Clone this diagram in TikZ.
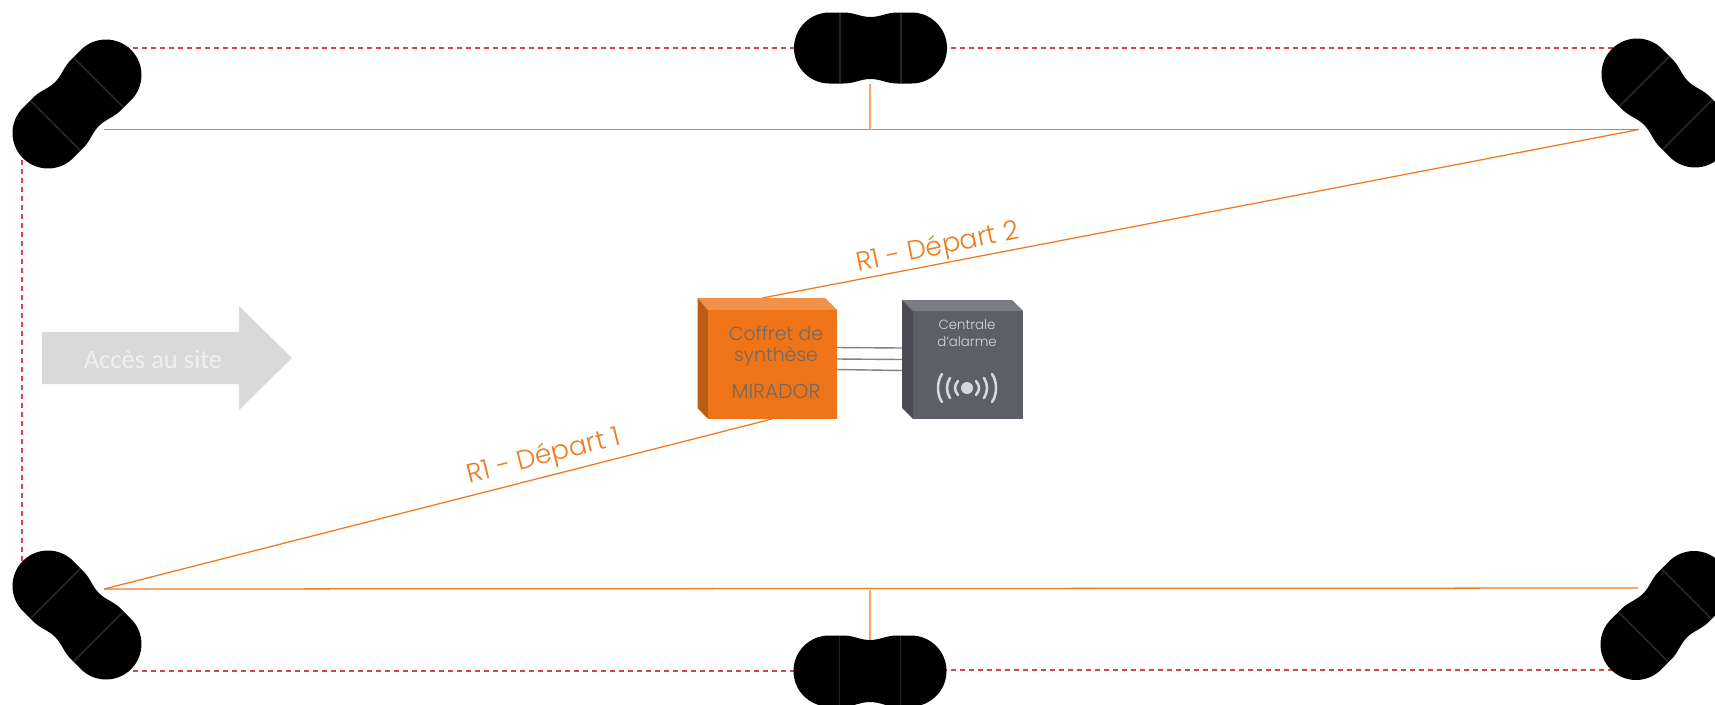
\documentclass[tikz,border=0pt]{standalone}
\usepackage{fontspec}
\setmainfont{Poppins Light}
\newfontfamily\calib{Carlito}
\definecolor{orgline}{HTML}{F07A1E}
\definecolor{orgpale}{HTML}{F5A466}
\definecolor{redline}{HTML}{D9434E}
\definecolor{orgfront}{HTML}{EF7317}
\definecolor{orgtop}{HTML}{F39149}
\definecolor{orgleft}{HTML}{BD5D12}
\definecolor{grayfront}{HTML}{5D5F67}
\definecolor{graytop}{HTML}{7B7C84}
\definecolor{grayleft}{HTML}{4A4B53}
\definecolor{wiregray}{HTML}{80808A}
\definecolor{seam}{HTML}{262626}
\definecolor{txtgray}{HTML}{6F6A68}
\definecolor{txtlight}{HTML}{D8D8DC}
\tikzset{
  orgwire/.style={draw=orgline,line width=0.95pt},
  palewire/.style={draw=orgpale,line width=1.05pt},
  redwire/.style={draw=redline,line width=0.95pt,dash pattern=on 3.9pt off 2.85pt},
  graywire/.style={draw=wiregray,line width=1.05pt},
  wave/.style={draw=txtlight,line width=1.9pt,line cap=round},
  pics/camera/.style={code={
    \fill[black] (-41,35.5) arc[start angle=90,end angle=270,radius=35.5]
      -- (-27,-35.5) .. controls (-16,-35.5) and (-10,-31) .. (0,-31)
      .. controls (10,-31) and (16,-35.5) .. (27,-35.5) -- (41,-35.5)
      arc[start angle=270,end angle=450,radius=35.5]
      -- (27,35.5) .. controls (16,35.5) and (10,31) .. (0,31)
      .. controls (-10,31) and (-16,35.5) .. (-27,35.5) -- cycle;
    \draw[seam,line width=1.3pt] (-30.5,-35) -- (-30.5,35) (30.5,-35) -- (30.5,35);
  }}
}
\begin{document}
\begin{tikzpicture}[x=0.75pt,y=-0.75pt]
\useasboundingbox (0,0) rectangle (1715,704);
\clip (0,0) rectangle (1715,704);
% anchors
\coordinate (tl) at (104,129.5);
\coordinate (tr) at (1639,129.5);
\coordinate (tm) at (870,129.5);
\coordinate (tmc) at (870,84);
\coordinate (bl) at (104,589);
\coordinate (br) at (1638,588);
\coordinate (bm) at (870,590);
\coordinate (bmc) at (870,640);
\coordinate (boxtop) at (762,298);
\coordinate (boxbot) at (772,419);
% red loop
\draw[redwire] (106,48) -- (870,48);
\draw[redwire] (870,48) -- (1637,48);
\draw[redwire] (22,133) -- (22,586);
\draw[redwire] (106,671) -- (870,671);
\draw[redwire] (870,670) -- (1636,670);
% cameras
\pic at (77,104) [rotate=45] {camera};
\pic at (870.5,48) {camera};
\pic at (1666,103) [rotate=-45] {camera};
\pic at (77,615) [rotate=-45] {camera};
\pic at (870,671) {camera};
\pic at (1665,615.5) [rotate=45] {camera};
% orange wires
\draw[orgwire] (tl) -- (tr);
\draw[orgwire] (bl) -- (br);
\draw[palewire] (tmc) -- (tm);
\draw[palewire] (bm) -- (bmc);
\draw[orgwire] (tr) -- (boxtop);
\draw[orgwire] (bl) -- (boxbot);
% arrow
\fill[fill=black!15] (42,332) -- (239,332) -- (239,306) -- (292,358) -- (239,410) -- (239,384) -- (42,384) -- cycle;
\node[text=white,opacity=0.6,font=\calib\fontsize{19.9}{22}\selectfont,inner sep=0] (acces) at (153,359) {Accès au site};
% coffret
\fill[orgtop] (697.5,298) -- (825,298) -- (837,310) -- (708,310) -- cycle;
\fill[orgleft] (697.5,298) -- (708,310) -- (708,419) -- (697.5,408) -- cycle;
\fill[orgfront] (708,310) rectangle (837,419);
\node[text=txtgray,font=\fontsize{14.2}{16}\selectfont,inner sep=0] (c1) at (776,333) {Coffret de};
\node[text=txtgray,font=\fontsize{14.2}{16}\selectfont,inner sep=0] (c2) at (776,357) {synthèse};
\node[text=txtgray,font=\fontsize{15.2}{16}\selectfont,inner sep=0] (c3) at (776,391) {MIRADOR};
% centrale
\fill[graytop] (902,300) -- (1012,300) -- (1023,311) -- (913,311) -- cycle;
\fill[grayleft] (902,300) -- (913,311) -- (913,419) -- (902,408) -- cycle;
\fill[grayfront] (913,311) rectangle (1023,419);
\node[text=txtlight,font=\fontsize{10}{11}\selectfont,inner sep=0] (a1) at (967,325) {Centrale};
\node[text=txtlight,font=\fontsize{10}{11}\selectfont,inner sep=0] (a2) at (967,342) {d'alarme};
% wires between boxes
\coordinate (w1a) at (837,347.5); \coordinate (w1b) at (902,348);
\coordinate (w2a) at (837,359); \coordinate (w2b) at (902,359.5);
\coordinate (w3a) at (837,369.5); \coordinate (w3b) at (902,370.5);
\draw[graywire] (w1a) -- (w1b);
\draw[graywire] (w2a) -- (w2b);
\draw[graywire] (w3a) -- (w3b);
% radio icon
\fill[txtlight] (967,388) circle[radius=6];
\foreach \s in {-1,1}{
  \draw[wave] (967+\s*9,381) .. controls (967+\s*13,386) and (967+\s*13,390) .. (967+\s*9,395);
  \draw[wave] (967+\s*17,378) .. controls (967+\s*21,384) and (967+\s*21,392) .. (967+\s*17,398);
  \draw[wave] (967+\s*25,374) .. controls (967+\s*30.3,381) and (967+\s*30.3,395) .. (967+\s*25,402);
}
% labels
\node[text=orgline,font=\fontsize{20}{22}\selectfont,inner sep=0,rotate=11.5] (d2) at (938,248) {R1 - Départ 2};
\node[text=orgline,font=\fontsize{20}{22}\selectfont,inner sep=0,rotate=14.3] (d1) at (544,457) {R1 - Départ 1};
\end{tikzpicture}
\end{document}
